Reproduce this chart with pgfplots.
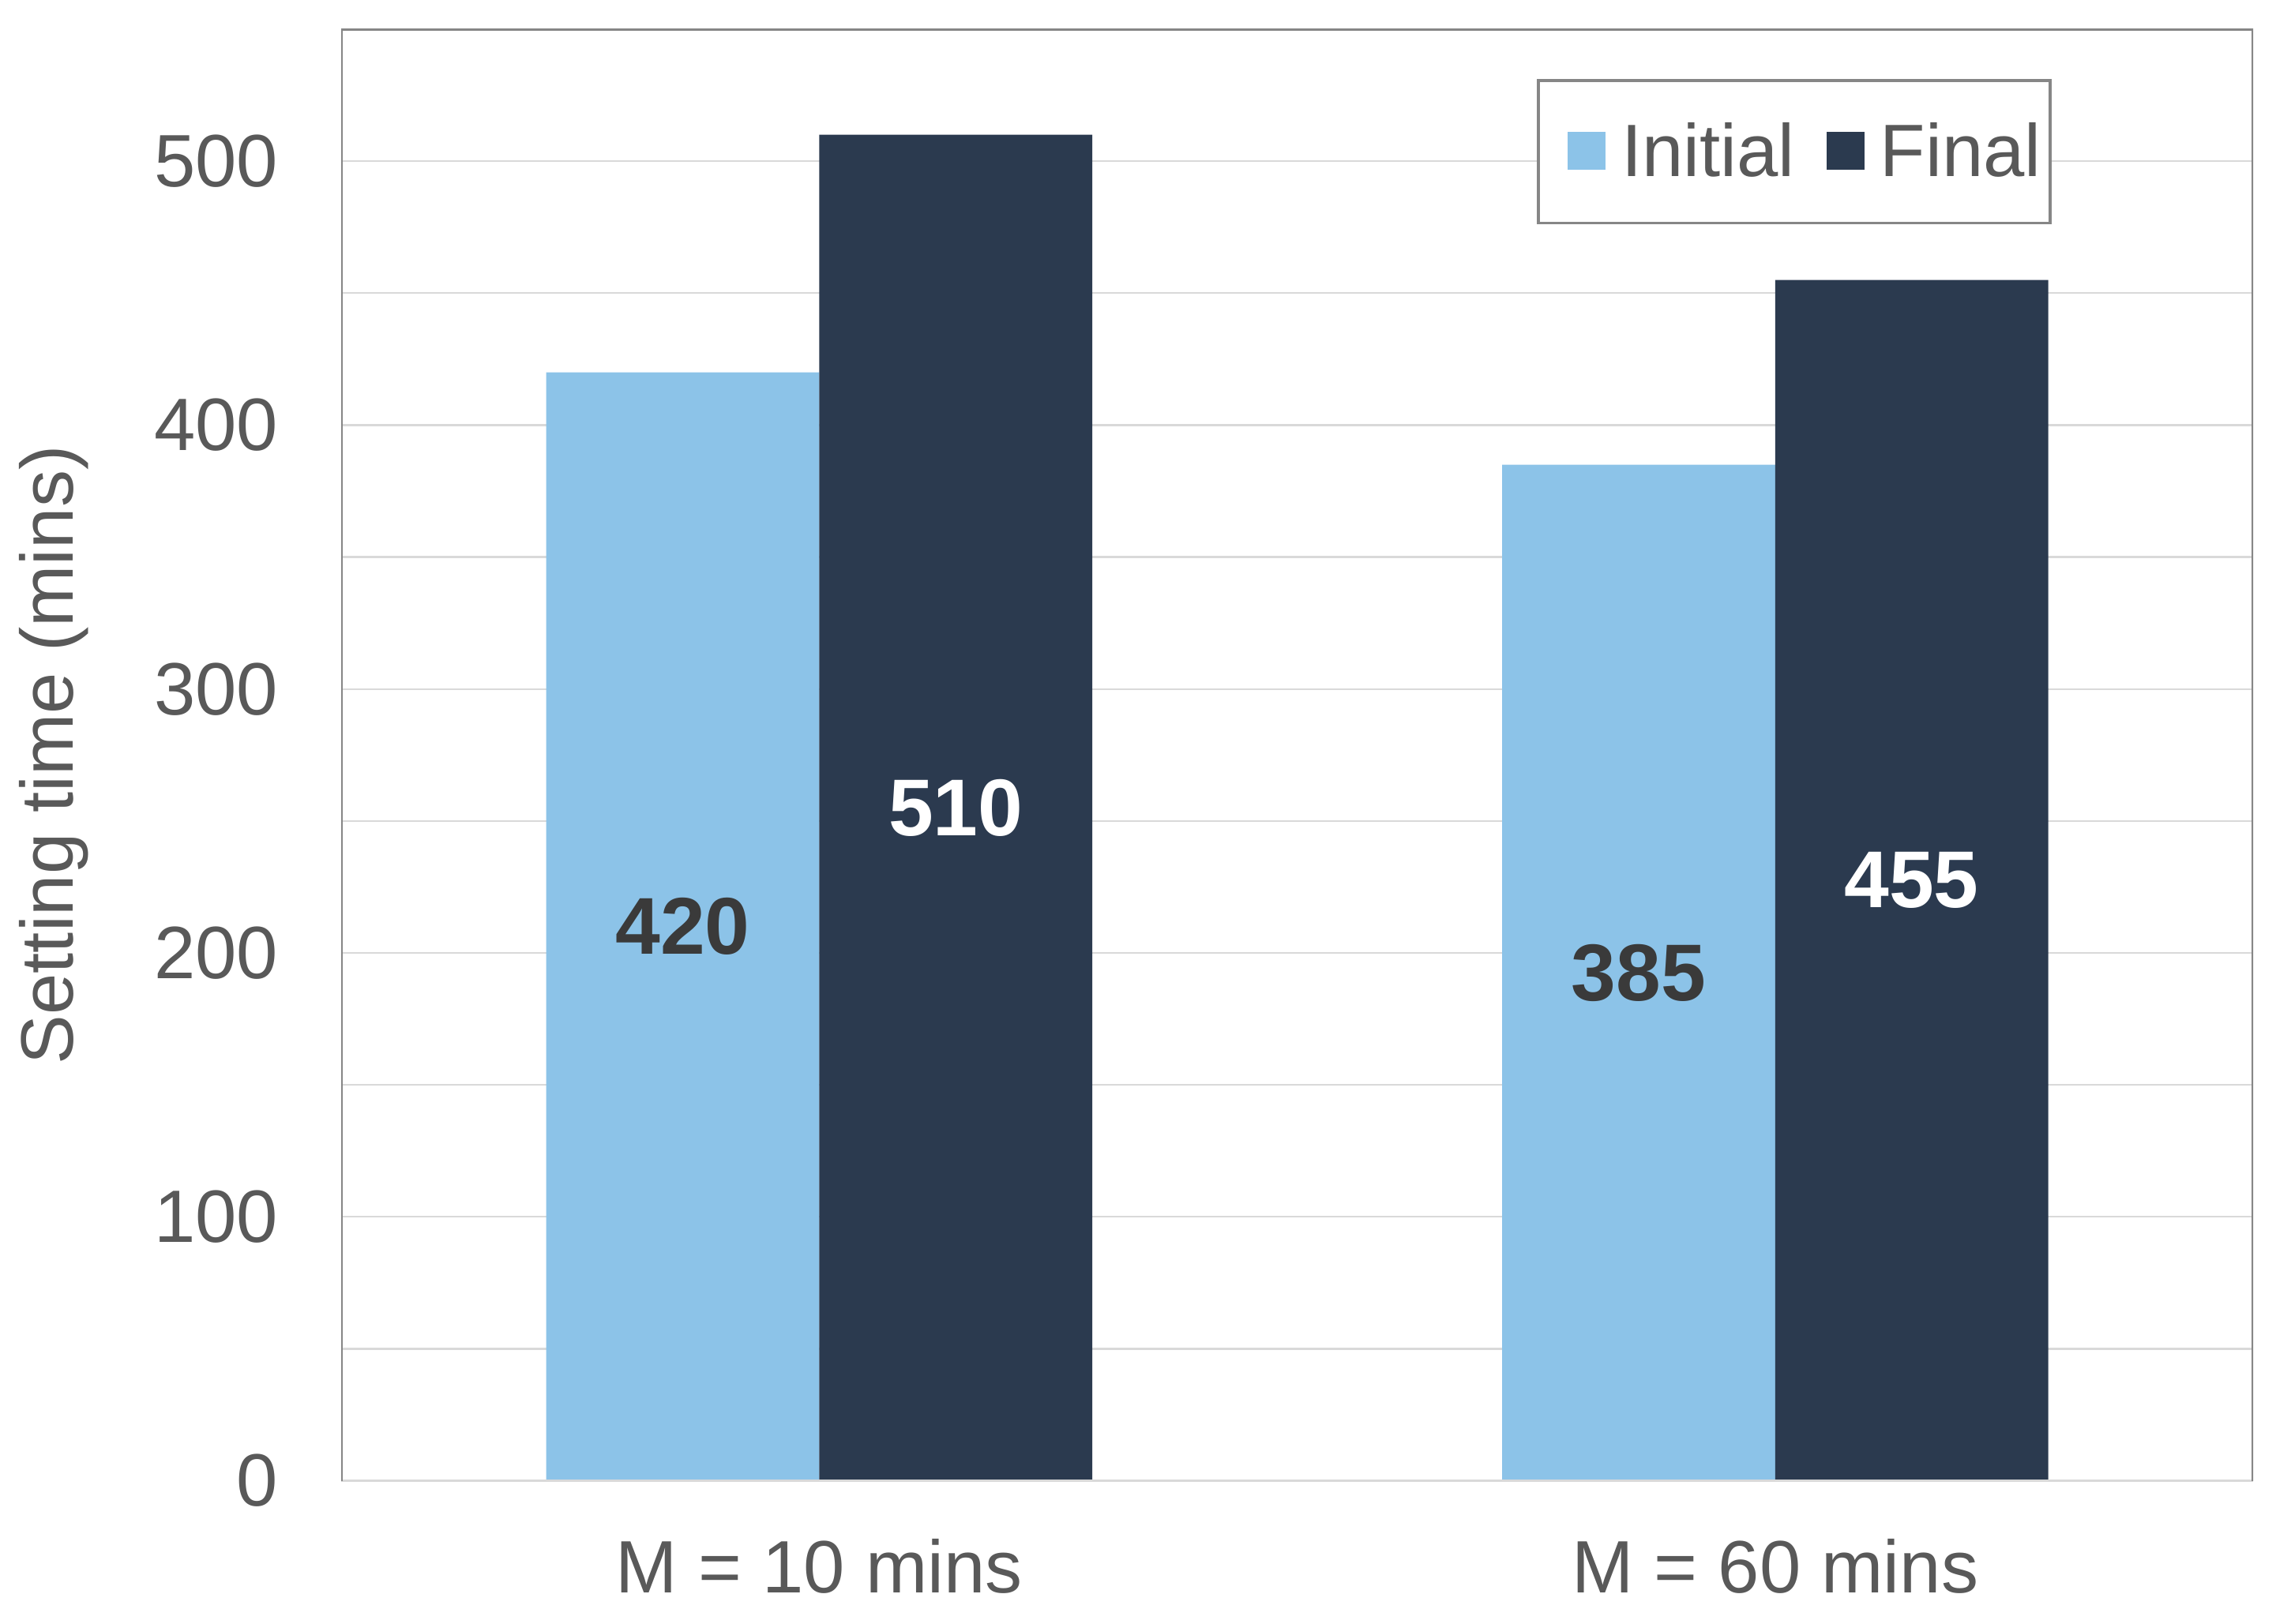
\documentclass[border=0pt]{standalone}
\usepackage{fontspec}
\setmainfont{Liberation Sans}
\usepackage{pgfplots}
\pgfplotsset{compat=1.18}
\definecolor{initc}{HTML}{8CC3E8}
\definecolor{finalc}{HTML}{2B3A4F}
\definecolor{txtc}{HTML}{595959}
\definecolor{gridc}{HTML}{D9D9D9}
\definecolor{framec}{HTML}{868686}
\definecolor{lblc}{HTML}{3A3A3A}
\begin{document}
\begin{tikzpicture}
\begin{axis}[
  scale only axis,
  width=605bp, height=459.5bp,
  ybar=0pt, bar width=86.4bp,
  xmin=-0.5, xmax=1.5,
  ymin=0, ymax=550,
  xtick={0,1}, xticklabels={M = 10 mins, M = 60 mins},
  ytick={0,100,200,300,400,500},
  minor ytick={50,150,250,350,450},
  ymajorgrids, yminorgrids,
  major grid style={draw=gridc, line width=0.55bp},
  minor grid style={draw=gridc, line width=0.55bp},
  major tick length=0pt, minor tick length=0pt,
  axis line style={draw=none},
  /pgf/number format/assume math mode=true,
  tick label style={font=\fontsize{23.5bp}{28bp}\selectfont, text=txtc},
  yticklabel style={xshift=-16.5bp},
  xticklabel style={yshift=-15bp},
  ylabel={Setting time (mins)},
  every axis y label/.style={at={(axis description cs:-0.1504,0.5)}, rotate=90, anchor=center,
    font=\fontsize{23.5bp}{28bp}\selectfont, text=txtc},
  legend columns=2,
  legend style={at={(0.6254,0.9657)}, anchor=north west, draw=framec, line width=0.9bp,
    font=\fontsize{23.5bp}{28bp}\selectfont, text=txtc,
    inner xsep=0.8bp, inner ysep=11.3bp,
    nodes={inner sep=2bp},
    /tikz/every even column/.append style={column sep=0bp}},
  nodes near coords,
  visualization depends on=rawy\as\rawy,
  every node near coord/.append style={anchor=center, yshift={-0.41773bp*\rawy},
    font=\fontsize{25.5bp}{30bp}\selectfont\bfseries},
]
\addplot[fill=initc, draw=none, nodes near coords style={text=lblc},
  legend image code/.code={\path (-8.5bp,0) (15bp,0); \fill[initc] (0bp,-5.6bp) rectangle (12bp,6.4bp);}]
  coordinates {(0,420) (1,385)};
\addlegendentry{Initial}
\addplot[fill=finalc, draw=none, nodes near coords style={text=white},
  legend image code/.code={\path (-8bp,0) (15bp,0); \fill[finalc] (0bp,-5.6bp) rectangle (12bp,6.4bp);}]
  coordinates {(0,510) (1,455)};
\addlegendentry{Final}
\draw[gridc, line width=0.75bp] (rel axis cs:0,0) -- (rel axis cs:1,0);
\draw[framec, line width=0.9bp] (rel axis cs:0,0) -- (rel axis cs:0,1) -- (rel axis cs:1,1) -- (rel axis cs:1,0);
\end{axis}
\pgfresetboundingbox
\path (current axis.south west) ++(-108bp,-45.25bp) coordinate (bbA);
\path (current axis.north east) ++(7.25bp,9.25bp) coordinate (bbB);
\useasboundingbox (bbA) rectangle (bbB);
\end{tikzpicture}
\end{document}
